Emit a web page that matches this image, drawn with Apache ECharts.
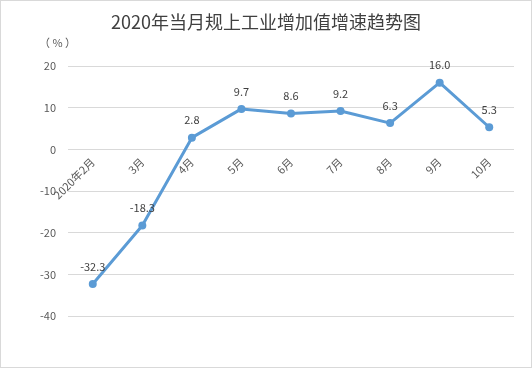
<!DOCTYPE html>
<html><head><meta charset="utf-8">
<script src="https://cdn.jsdelivr.net/npm/echarts@6/dist/echarts.min.js"></script>
<style>html,body{margin:0;padding:0;background:#fff}#c{width:532px;height:368px;box-sizing:border-box;border:1px solid #d9d9d9}</style>
</head><body><div id="c"></div>
<script>
const categories = ['2020年2月','3月','4月','5月','6月','7月','8月','9月','10月'];
const growth = [-32.3, -18.3, 2.8, 9.7, 8.6, 9.2, 6.3, 16.0, 5.3];
const yTicks = {min: -40, max: 20, interval: 10};
const chart = echarts.init(document.getElementById('c'));
const font = '"Noto Sans CJK SC", "Noto Sans", sans-serif';
const gridTop = 65, gridBottom = 51, H = 368;
const plotH = H - gridTop - gridBottom;
const zeroFromBottom = plotH * (0 - yTicks.min) / (yTicks.max - yTicks.min);
chart.setOption({
  animation: false,
  textStyle: {fontFamily: font},
  title: {text: '2020年当月规上工业增加值增速趋势图', left: 'center', top: 7,
    textStyle: {fontSize: 18, fontWeight: 'normal', color: '#404040', fontFamily: font}},
  graphic: [{type: 'text', left: 38, top: 36, style: {text: '（ % ）', fontSize: 11, fill: '#595959', fontFamily: font}}],
  grid: {left: 67, right: 17, top: gridTop, bottom: gridBottom},
  xAxis: {type: 'category', data: categories, boundaryGap: true, position: 'bottom', offset: -zeroFromBottom,
    axisLine: {show: false}, axisTick: {show: false},
    axisLabel: {rotate: 45, margin: 12, fontSize: 11, color: '#595959', interval: 0}},
  yAxis: {type: 'value', min: yTicks.min, max: yTicks.max, interval: yTicks.interval,
    axisLine: {show: false}, axisTick: {show: false},
    axisLabel: {fontSize: 11, color: '#595959', margin: 12},
    splitLine: {lineStyle: {color: '#d9d9d9', width: 1}}},
  series: [{type: 'line', data: growth, symbol: 'circle', symbolSize: 8,
    itemStyle: {color: '#5B9BD5'}, lineStyle: {color: '#5B9BD5', width: 3},
    label: {show: true, position: 'top', distance: 8, fontSize: 11, color: '#404040',
      formatter: p => p.value.toFixed(1)}}]
});
</script></body></html>
